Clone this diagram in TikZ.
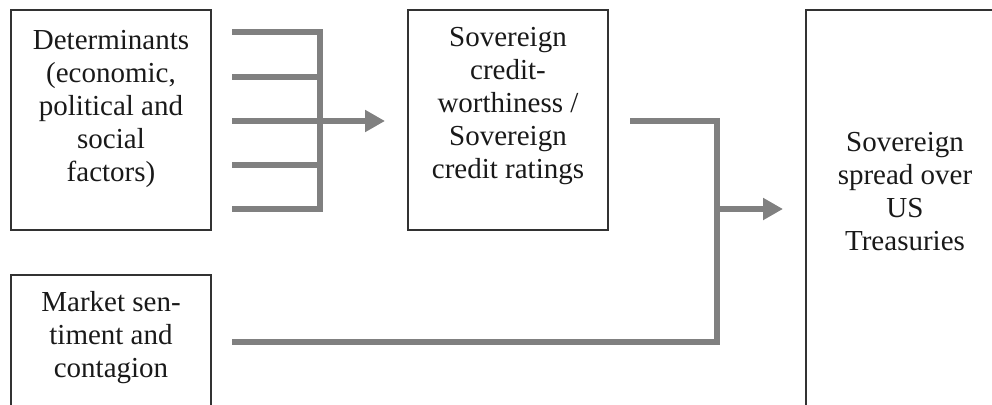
\documentclass[tikz,border=0pt]{standalone}
\usepackage{fontspec}
\setmainfont{Liberation Serif}
\usetikzlibrary{arrows.meta}
\definecolor{conngray}{RGB}{128,128,128}
\definecolor{boxline}{RGB}{50,50,50}
\begin{document}
\begin{tikzpicture}[x=1pt,y=-1pt,
  box/.style={draw=boxline, line width=1.4pt, inner sep=0pt, minimum width=200pt},
  lbl/.style={align=center, font=\fontsize{29}{33}\selectfont, inner sep=0pt, text=black!90},
  conn/.style={draw=conngray, line width=5.5pt, line join=miter},
  arr/.style={conn, -{Triangle[length=20pt, width=21pt]}}]
\useasboundingbox (0,0) rectangle (992,404);
\clip (0,0) rectangle (992,404);
% boxes
\node[box, minimum height=220pt] (det) at (111,120) {};
\node[box, minimum height=220pt] (cred) at (508,120) {};
\node[box, minimum height=200pt] (mkt) at (111,375) {};
\node[box, minimum height=420pt] (spr) at (906,220) {};
% labels
\node[lbl] (detl) at (111,109) {Determinants\\(economic,\\political and\\social\\factors)};
\node[lbl] (credl) at (508,106) {Sovereign\\credit-\\worthiness /\\Sovereign\\credit ratings};
\node[lbl] (mktl) at (111,338) {Market sen-\\timent and\\contagion};
\node[lbl] (sprl) at (905,192) {Sovereign\\spread over\\US\\Treasuries};
% connector points
\coordinate (d1) at (232,32);
\coordinate (d2) at (232,77);
\coordinate (d3) at (232,121);
\coordinate (d4) at (232,165);
\coordinate (d5) at (232,209);
\coordinate (j1t) at (320,32);
\coordinate (j1m) at (320,121);
\coordinate (j1b) at (320,209);
\coordinate (a1) at (385,121);
\coordinate (c1) at (630,121);
\coordinate (j2t) at (717,121);
\coordinate (j2m) at (717,209);
\coordinate (j2b) at (717,342);
\coordinate (m1) at (232,342);
\coordinate (a2) at (783,209);
% connectors
\draw[conn] (d1) -- (j1t) -- (j1b) -- (d5);
\draw[conn] (d2) -- (d2 -| j1t);
\draw[conn] (d4) -- (d4 -| j1t);
\draw[conn] (d3) -- (j1m);
\draw[arr] (j1m) -- (a1);
\draw[conn] (c1) -- (j2t) -- (j2b) -- (m1);
\draw[arr] (j2m) -- (a2);
\end{tikzpicture}
\end{document}
